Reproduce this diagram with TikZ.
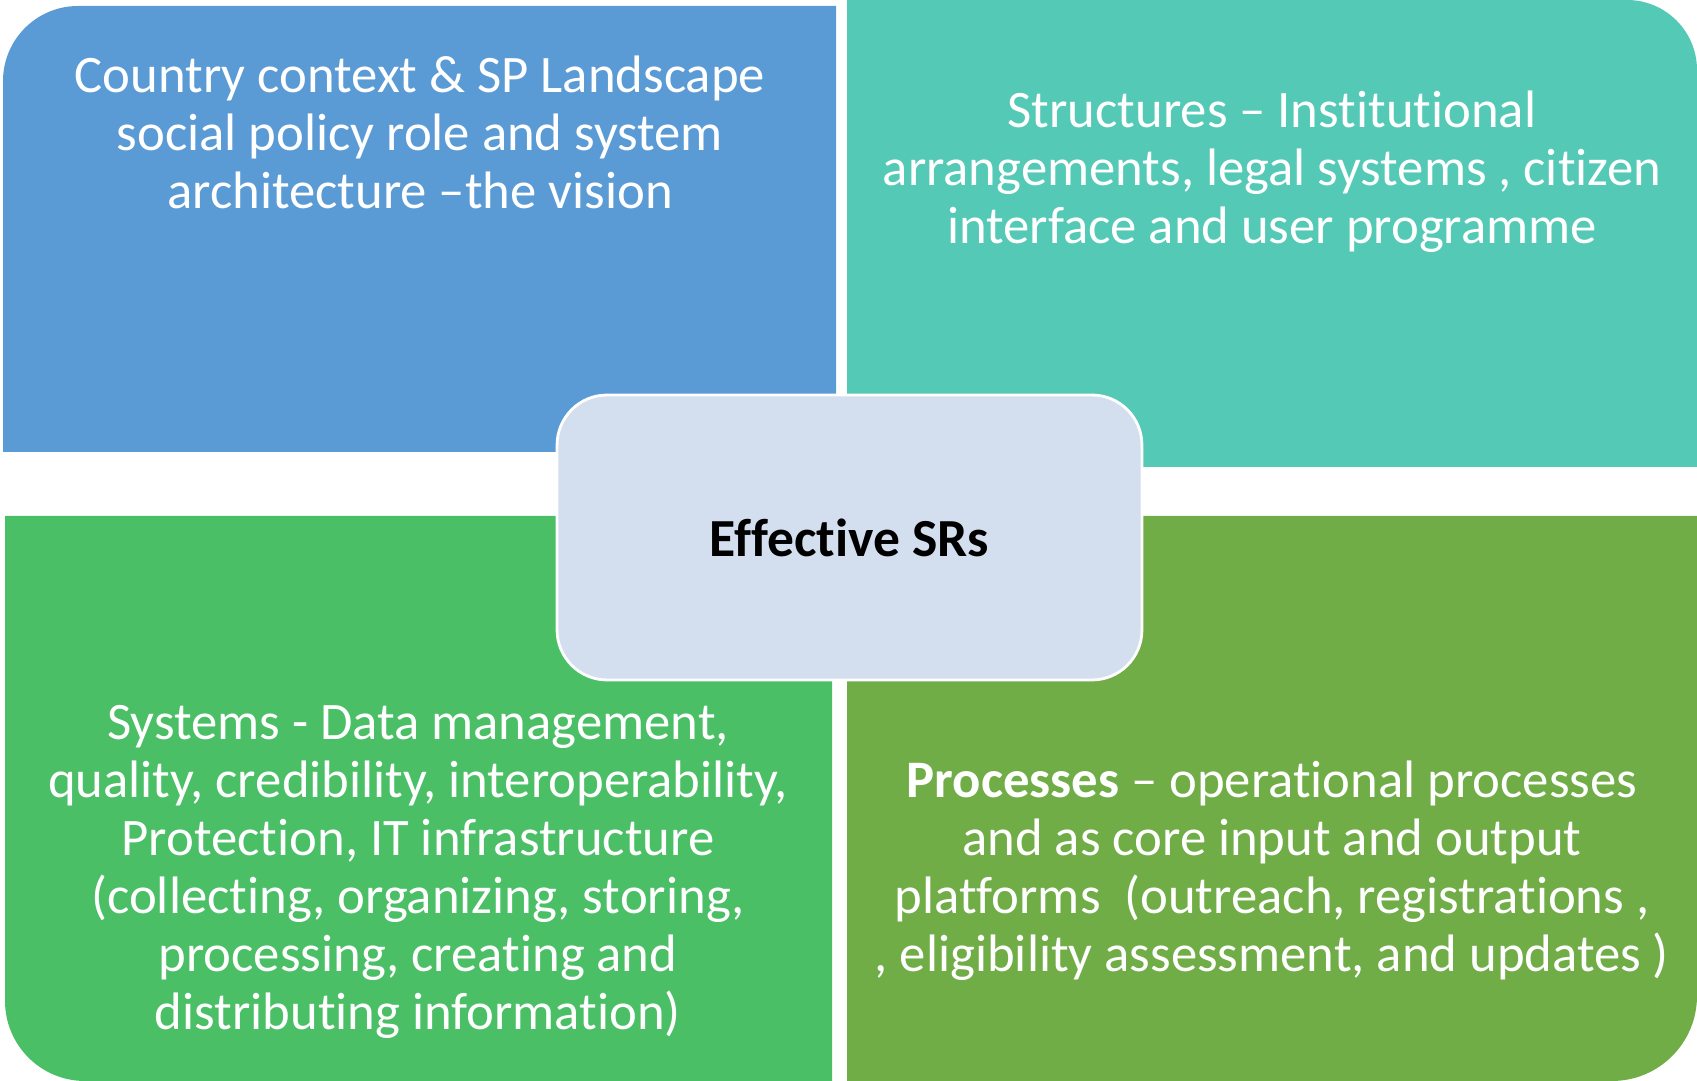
\documentclass[tikz,border=0pt]{standalone}
\usepackage{fontspec}
\setmainfont[Ligatures=NoCommon]{Carlito}

\definecolor{quadBlue}{HTML}{5B9BD5}
\definecolor{quadTeal}{HTML}{53C9B6}
\definecolor{quadGreen}{HTML}{4ABF66}
\definecolor{quadOlive}{HTML}{70AD47}
\definecolor{coreFill}{HTML}{D3DEEF}

\tikzstyle{quadText} = [text=white, align=center, font=\fontsize{30}{33}\selectfont]
\tikzstyle{coreNode} = [rectangle, rounded corners=1cm, minimum width=11.7cm, minimum height=5.7cm, text centered, fill=coreFill, draw=white, line width=1.6pt, font=\fontsize{30.5}{34}\selectfont\bfseries]

\begin{document}
\begin{tikzpicture}[x=0.02cm,y=0.02cm]
    \useasboundingbox (0,0) rectangle (1697,1081);

    % four quadrants, one round corner each
    \fill[quadBlue] (3,629) -- (3,1000) arc[start angle=180,end angle=90,radius=1.5cm] -- (836,1075) -- (836,629) -- cycle;
    \fill[quadTeal] (847,614) -- (847,1081) -- (1627,1081) arc[start angle=90,end angle=0,radius=1.4cm] -- (1697,614) -- cycle;
    \fill[quadGreen] (832,0) -- (85,0) arc[start angle=270,end angle=180,radius=1.6cm] -- (5,565) -- (832,565) -- cycle;
    \fill[quadOlive] (847,0) -- (1612,0) arc[start angle=270,end angle=360,radius=1.7cm] -- (1697,565) -- (847,565) -- cycle;

    \node (vision)[quadText] at (420,949) {Country context \& SP Landscape\\ social policy role and system\\ architecture –the vision};
    \node (structures)[quadText] at (1272,909) {Structures – Institutional\\ arrangements, legal systems , citizen\\ interface and user programme};
    \node (systems)[quadText] at (418,209) {Systems - Data management,\\ quality, credibility, interoperability,\\ Protection, IT infrastructure\\ (collecting, organizing, storing,\\ processing, creating and\\ distributing information)};
    \node (processes)[quadText] at (1272,210) {\textbf{Processes} – operational processes\\ and as core input and output\\ platforms~~(outreach, registrations ,\\ , eligibility assessment, and updates )};

    \node (core)[coreNode] at (849.5,543.5) {Effective SRs};
\end{tikzpicture}
\end{document}
